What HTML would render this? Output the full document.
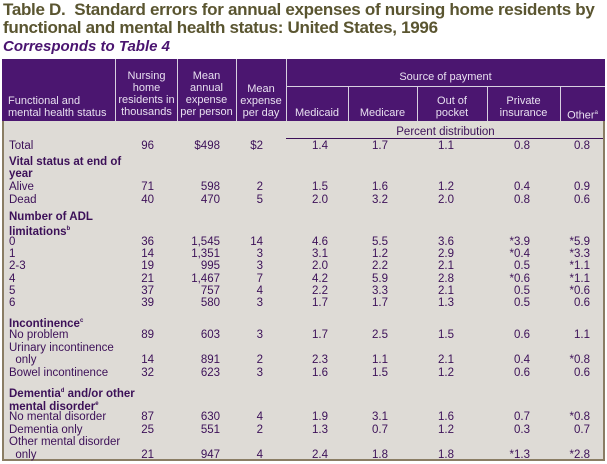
<!DOCTYPE html>
<html><head><meta charset="utf-8"><style>
body{margin:0;width:607px;height:464px;background:#fff;position:relative;overflow:hidden;font-family:"Liberation Sans",sans-serif}
.t{position:absolute;white-space:nowrap}
#title{left:3px;top:1px;font-size:17px;font-weight:bold;color:#5a5530;line-height:18px;letter-spacing:-0.3px}
#sub{left:3px;top:38px;font-size:15px;font-weight:bold;font-style:italic;color:#4a1470}
#head{position:absolute;left:2px;top:59px;width:603px;height:62px;background:#4b1670}
#body{position:absolute;left:2px;top:121px;width:599px;height:338px;background:#dedbd6;border:2px solid #8a7d64;border-top:none}
.h{color:#e8e0f0;font-size:11px;text-align:center;line-height:12px}
.vl{position:absolute;top:59px;height:62px;width:1px;background:#d8d0e0}
.c{font-size:11.5px;color:#3c1058;line-height:12px}
.b{font-weight:bold}
</style></head><body>
<div id="title" class="t">Table D.&nbsp; Standard errors for annual expenses of nursing home residents by<br>functional and mental health status: United States, 1996</div>
<div id="sub" class="t">Corresponds to Table 4</div>
<div id="head"></div>
<div id="body"></div>
<div class="vl" style="left:115px"></div><div class="vl" style="left:177px"></div><div class="vl" style="left:236px"></div><div class="vl" style="left:286px"></div>
<div class="vl" style="left:348px;top:86px;height:35px"></div><div class="vl" style="left:417px;top:86px;height:35px"></div><div class="vl" style="left:487px;top:86px;height:35px"></div><div class="vl" style="left:560px;top:86px;height:35px"></div>
<div style="position:absolute;left:286px;top:86px;width:319px;height:1px;background:#d8d0e0"></div>
<div class="t h" style="left:8px;top:95px;text-align:left">Functional and<br>mental health status</div>
<div class="t h" style="left:116px;top:70px;width:61px">Nursing<br>home<br>residents in<br>thousands</div>
<div class="t h" style="left:177px;top:70px;width:59px">Mean<br>annual<br>expense<br>per person</div>
<div class="t h" style="left:236px;top:83px;width:50px">Mean<br>expense<br>per day</div>
<div class="t h" style="left:286px;top:71px;width:319px">Source of payment</div>
<div class="t h" style="left:286px;top:107px;width:62px">Medicaid</div>
<div class="t h" style="left:348px;top:107px;width:69px">Medicare</div>
<div class="t h" style="left:417px;top:95px;width:70px">Out of<br>pocket</div>
<div class="t h" style="left:487px;top:95px;width:73px">Private<br>insurance</div>
<div class="t h" style="left:560px;top:107px;width:45px">Other<sup style="font-size:6px">a</sup></div>
<div class="t c" style="left:286px;top:126px;width:319px;text-align:center">Percent distribution</div>
<div style="position:absolute;left:286px;top:138px;width:317px;height:1px;background:#3c1058"></div>
<script>
const rows=[
[146,"Total",0,["96","$498","$2","1.4","1.7","1.1","0.8","0.8"]],
[162,"Vital status at end of",1],[174,"year",1],
[187,"Alive",0,["71","598","2","1.5","1.6","1.2","0.4","0.9"]],
[200,"Dead",0,["40","470","5","2.0","3.2","2.0","0.8","0.6"]],
[217,"Number of ADL",1],[229,"limitations<sup style='font-size:6px'>b</sup>",1],
[242,"0",0,["36","1,545","14","4.6","5.5","3.6","*3.9","*5.9"]],
[254,"1",0,["14","1,351","3","3.1","1.2","2.9","*0.4","*3.3"]],
[266,"2-3",0,["19","995","3","2.0","2.2","2.1","0.5","*1.1"]],
[279,"4",0,["21","1,467","7","4.2","5.9","2.8","*0.6","*1.1"]],
[291,"5",0,["37","757","4","2.2","3.3","2.1","0.5","*0.6"]],
[303,"6",0,["39","580","3","1.7","1.7","1.3","0.5","0.6"]],
[321,"Incontinence<sup style='font-size:6px'>c</sup>",1],
[335,"No problem",0,["89","603","3","1.7","2.5","1.5","0.6","1.1"]],
[348,"Urinary incontinence",0],
[360,"&nbsp;&nbsp;only",0,["14","891","2","2.3","1.1","2.1","0.4","*0.8"]],
[373,"Bowel incontinence",0,["32","623","3","1.6","1.5","1.2","0.6","0.6"]],
[391,"Dementia<sup style='font-size:6px'>d</sup> and/or other",1],[404,"mental disorder<sup style='font-size:6px'>e</sup>",1],
[417,"No mental disorder",0,["87","630","4","1.9","3.1","1.6","0.7","*0.8"]],
[430,"Dementia only",0,["25","551","2","1.3","0.7","1.2","0.3","0.7"]],
[442,"Other mental disorder",0],
[455,"&nbsp;&nbsp;only",0,["21","947","4","2.4","1.8","1.8","*1.3","*2.8"]]];
const rights=[154,220,263,328,388,454,530,590];
rows.forEach((r,i)=>{
 const l=document.createElement('div');l.className='t c'+(r[2]?' b':'');l.style.left='9px';l.style.top=(r[0]-6)+'px';l.innerHTML=r[1];
 
 
 document.body.appendChild(l);
 if(r[3])r[3].forEach((v,j)=>{
  const d=document.createElement('div');d.className='t c';d.style.right=(607-rights[j])+'px';d.style.top=(r[0]-6)+'px';d.textContent=v;
  
  
  document.body.appendChild(d);
 });
});
</script>
</body></html>
